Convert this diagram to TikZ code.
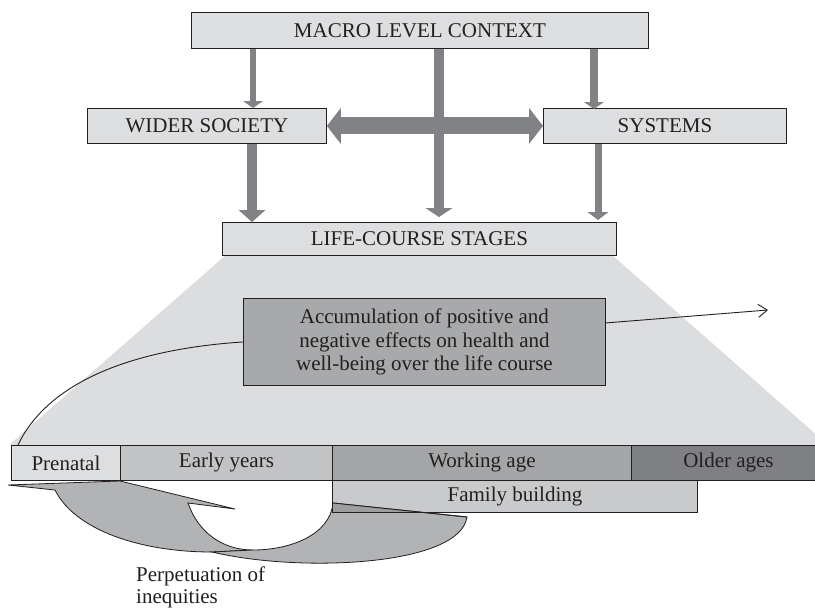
\documentclass[tikz,border=0pt]{standalone}
\usepackage{fontspec}
\setmainfont{Liberation Serif}
\usetikzlibrary{arrows.meta,calc}
\definecolor{boxgray}{HTML}{DDDEE0}
\definecolor{trapgray}{HTML}{DCDDDF}
\definecolor{arrgray}{HTML}{808285}
\definecolor{accgray}{HTML}{A8A9AB}
\definecolor{earlygray}{HTML}{C2C3C5}
\definecolor{workgray}{HTML}{A4A5A7}
\definecolor{oldgray}{HTML}{7F8083}
\definecolor{famgray}{HTML}{C9CACC}
\definecolor{curvegray}{HTML}{B2B3B5}
\definecolor{overgray}{HTML}{9D9EA0}
\definecolor{edge}{HTML}{231F20}
\begin{document}
\begin{tikzpicture}[x=1pt,y=-1pt,
  every node/.style={font=\fontsize{21}{23.5}\selectfont, inner sep=0pt, text=edge},
  box/.style={draw=edge, line width=0.9pt, fill=#1, anchor=north west},
  box/.default=boxgray,
  blk/.style n args={3}{draw=arrgray, line width=#1, -{Triangle[width=#2, length=#3, line width=0pt]}},
  thinline/.style={draw=edge, line width=0.9pt},
  crv/.style={draw=edge, line width=0.8pt, fill=curvegray, line join=miter}]
\useasboundingbox (0,0) rectangle (815,611);
\clip (0,0) rectangle (815,611);
\fill[white] (0,0) rectangle (815,611);

% trapezoid behind the life-course stages
\fill[trapgray] (226,255) -- (612,255) -- (828,445) -- (9,445) -- cycle;

% x positions of the vertical arrows
\coordinate (xL) at (253,0);
\coordinate (xM) at (439,0);
\coordinate (xR) at (594,0);
\coordinate (xLb) at (252,0);
\coordinate (xRb) at (598,0);

% top boxes
\node[box, minimum width=457, minimum height=36] (macro) at (191,12) {MACRO LEVEL CONTEXT};
\node[box, minimum width=239, minimum height=35] (wider) at (87,108) {WIDER SOCIETY};
\node[box, minimum width=243, minimum height=35] (systems) at (543,108) {SYSTEMS};
\node[box, minimum width=394, minimum height=33] (life) at (222,222) {LIFE-COURSE STAGES};

% block arrows
\draw[blk={6pt}{20pt}{7pt}] (macro.south -| xL) -- (wider.north -| xL);
\draw[blk={8pt}{20pt}{7pt}] (macro.south -| xR) -- ([yshift=-1pt]systems.north -| xR);
\draw[blk={10pt}{27pt}{9pt}, shorten >=5pt] (macro.south -| xM) -- (life.north -| xM);
\draw[blk={10pt}{27pt}{12pt}] (wider.south -| xLb) -- (life.north -| xLb);
\draw[blk={7pt}{21pt}{8pt}, shorten >=2pt] (systems.south -| xRb) -- (life.north -| xRb);
\draw[draw=arrgray, line width=17pt, {Triangle[width=36pt, length=14pt, line width=0pt]}-{Triangle[width=36pt, length=14pt, line width=0pt]}] (wider.east) -- (systems.west);

% accumulation box and its curve
\coordinate (cstart) at (18,445);
\coordinate (outstart) at (605,323);
\coordinate (outend) at (768,310);
\node[box=accgray, minimum width=362, minimum height=87, align=center] (acc) at (243,298)
  {Accumulation of positive and\\negative effects on health and\\well-being over the life course};
\draw[thinline] (cstart) .. controls (45,388) and (120,350) .. (acc.west);
\draw[thinline, -{Straight Barb[length=9pt, width=13pt]}] (outstart) -- (outend);

% life-course stage bar
\node[box, minimum width=109, minimum height=35] (pre) at (11,445) {Prenatal};
\node[box=earlygray, minimum width=212, minimum height=35] (early) at (120,445) {Early years};
\node[box=workgray, minimum width=299, minimum height=35] (work) at (332,445) {Working age};
\node[box=oldgray, minimum width=194, minimum height=35] (old) at (631,445) {Older ages};
\node[box=famgray, minimum width=365, minimum height=32] (fam) at (332,480) {Family building};

% curved arrows: perpetuation of inequities
\path[crv] (55,490) .. controls (75,530) and (140,552) .. (212,552) -- (253,550)
  .. controls (222,550) and (198,532) .. (188,503) -- (235,509) -- (120,481) -- (8,485) -- cycle;
\path[crv] (212,552) .. controls (300,573) and (460,566) .. (467,517) -- (333,503)
  .. controls (330,535) and (290,550) .. (253,550) -- cycle;
\begin{scope}
  \clip (fam.north west) rectangle (fam.south east);
  \fill[overgray] (212,552) .. controls (300,573) and (460,566) .. (467,517) -- (333,503)
    .. controls (330,535) and (290,550) .. (253,550) -- cycle;
\end{scope}
\draw[thinline] (333,503) -- (467,517);
\draw[thinline] (fam.north west) rectangle (fam.south east);

\node[anchor=north west, align=left, font=\fontsize{21}{22}\selectfont] (perp) at (136,567) {Perpetuation of\\inequities};
\end{tikzpicture}
\end{document}
